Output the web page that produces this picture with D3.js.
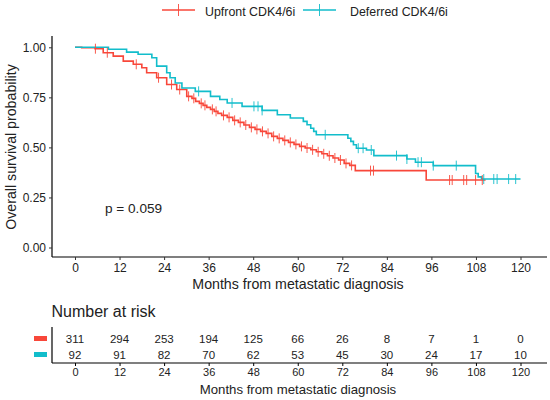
<!DOCTYPE html>
<html>
<head>
<meta charset="utf-8">
<script src="https://cdn.jsdelivr.net/npm/d3@7"></script>
<style>
  body { margin: 0; background: #fff; }
  svg { font-family: "Liberation Sans", Arial, sans-serif; }
</style>
</head>
<body>
<div class="km-plot"></div>
<script>
// survival steps: [month, survival after the drop]
const upfrontSteps = [
	[0, 1.0], [1.8, 0.998], [5.4, 0.993], [7.6, 0.973], [10.3, 0.956], [13, 0.931],
	[15.7, 0.915], [18, 0.898], [19.3, 0.873], [22, 0.848], [24.7, 0.814], [27.4, 0.789],
	[30.1, 0.755], [31.5, 0.745], [32.5, 0.73], [33.5, 0.72], [34.5, 0.71], [35.5, 0.70],
	[36.5, 0.69], [37.5, 0.68], [38.5, 0.67], [39.5, 0.66], [41, 0.65], [42.5, 0.635],
	[44, 0.625], [45.5, 0.612], [47, 0.60], [48.5, 0.59], [50, 0.58], [51.5, 0.57],
	[53, 0.555], [54.5, 0.545], [56, 0.535], [57.5, 0.525], [59, 0.515], [60.5, 0.505],
	[62, 0.497], [63.5, 0.488], [65, 0.478], [66.5, 0.468], [68, 0.458], [69.5, 0.447],
	[71, 0.437], [72.5, 0.42], [74, 0.41], [75.5, 0.384], [94.6, 0.337], [110.6, 0.337]
];
const upfrontCensor = [
	5.5, 8.7, 16.5, 22.5, 26, 28.2, 30.6, 32, 34, 35, 37, 38, 40, 41.5, 43, 44.5, 46,
	47.5, 49, 50.5, 52, 53.5, 55, 56.5, 58, 59.5, 61, 62.5, 64, 65.5, 67, 68.5, 70,
	71.5, 73, 74.5, 79.6, 80.4, 100.9, 101.6, 104.7, 105.5, 107.9, 109.7
];
const deferredSteps = [
	[0, 1.0], [9, 0.99], [13.9, 0.976], [17, 0.965], [20.7, 0.948], [22, 0.906],
	[24.7, 0.873], [25.6, 0.848], [27, 0.822], [28.8, 0.797], [32.4, 0.78], [36.5, 0.755],
	[39, 0.739], [41, 0.722], [45, 0.705], [50.4, 0.685], [54.5, 0.663], [58, 0.647],
	[61.5, 0.63], [62.5, 0.613], [63.5, 0.596], [64.3, 0.58], [65, 0.563], [73.5, 0.546],
	[74.3, 0.53], [75, 0.513], [75.8, 0.496], [78.5, 0.487], [80.5, 0.459], [89.4, 0.442],
	[91.7, 0.426], [96.5, 0.409], [107.9, 0.37], [108.6, 0.353], [109.5, 0.342], [120, 0.342]
];
const deferredCensor = [
	33.3, 42.3, 48.2, 49.3, 50.4, 67.4, 76.3, 77.6, 79.8, 86.6, 89.4, 92.4, 93.3, 96.5,
	102.7, 110.1, 112.8, 113.7, 116.8, 118.7
];
const timeTicks = [0, 12, 24, 36, 48, 60, 72, 84, 96, 108, 120];
const survTicks = [0, 0.25, 0.5, 0.75, 1];
const upfrontRisk = [311, 294, 253, 194, 125, 66, 26, 8, 7, 1, 0];
const deferredRisk = [92, 91, 82, 70, 62, 53, 45, 30, 24, 17, 10];
const groups = ['Upfront CDK4/6i', 'Deferred CDK4/6i'];
const colors = ['#F8473A', '#12BDCB'];

renderPlot();

function survAt(steps, t) {
	let s = steps[0][1];
	steps.forEach(function (d) { if (d[0] <= t) s = d[1]; });
	return s;
}

function renderPlot() {
	const width = 550;
	const height = 400;
	const svg = d3.select('.km-plot')
		.append('svg')
		.attr('width', width)
		.attr('height', height);

	const x = d3.scaleLinear().domain([0, 120]).range([75, 520.5]);
	const y = d3.scaleLinear().domain([0, 1]).range([247.5, 47.3]);

	// legend
	const legendX = [162, 303];
	groups.forEach(function (g, i) {
		const lg = svg.append('g').attr('transform', 'translate(' + legendX[i] + ',10)');
		lg.append('line').attr('x1', 0).attr('x2', 33).attr('y1', 0).attr('y2', 0)
			.attr('stroke', colors[i]).attr('stroke-width', 1.6);
		lg.append('line').attr('x1', 16.5).attr('x2', 16.5).attr('y1', -6).attr('y2', 6)
			.attr('stroke', colors[i]).attr('stroke-width', 0.9);
		lg.append('text').attr('x', i == 0 ? 43 : 47).attr('y', 5.5)
			.attr('font-size', '12.4px').attr('fill', '#222').text(g);
	});

	// axes
	svg.append('g')
		.attr('transform', 'translate(0,257)')
		.call(d3.axisBottom(x).tickValues(timeTicks).tickSize(3).tickPadding(3))
		.call(function (g) { g.select('.domain').attr('d', 'M52,0H547'); });
	svg.append('g')
		.attr('transform', 'translate(52,0)')
		.call(d3.axisLeft(y).tickValues(survTicks).tickFormat(d3.format('.2f')).tickSize(3).tickPadding(3))
		.call(function (g) { g.select('.domain').attr('d', 'M0,36V257'); });
	svg.selectAll('.tick text').attr('font-size', '12px').attr('fill', '#222')
		.attr('font-family', '"Liberation Sans", Arial, sans-serif');
	svg.selectAll('.domain').attr('stroke', '#000').attr('stroke-width', 1.2);
	svg.selectAll('.tick line').attr('stroke', '#333');

	svg.append('text').attr('x', 298).attr('y', 288.5).attr('text-anchor', 'middle')
		.attr('font-size', '14.2px').attr('fill', '#222').text('Months from metastatic diagnosis');
	svg.append('text').attr('transform', 'translate(15.5,147) rotate(-90)')
		.attr('text-anchor', 'middle').attr('font-size', '14.2px').attr('fill', '#222')
		.text('Overall survival probability');

	// curves
	const line = d3.line().x(function (d) { return x(d[0]); }).y(function (d) { return y(d[1]); })
		.curve(d3.curveStepAfter);
	[upfrontSteps, deferredSteps].forEach(function (steps, i) {
		svg.append('path').datum(steps)
			.attr('d', line)
			.attr('fill', 'none')
			.attr('stroke', colors[i])
			.attr('stroke-width', 1.6);
	});
	[upfrontCensor, deferredCensor].forEach(function (cens, i) {
		const steps = i == 0 ? upfrontSteps : deferredSteps;
		svg.selectAll('.cens' + i)
			.data(cens)
			.enter()
			.append('line')
			.attr('class', 'cens' + i)
			.attr('x1', function (d) { return x(d); })
			.attr('x2', function (d) { return x(d); })
			.attr('y1', function (d) { return y(survAt(steps, d)) - 5; })
			.attr('y2', function (d) { return y(survAt(steps, d)) + 5; })
			.attr('stroke', colors[i])
			.attr('stroke-width', 0.9);
	});

	svg.append('text').attr('x', 105).attr('y', 213)
		.attr('font-size', '13.6px').attr('fill', '#222').text('p = 0.059');

	// risk table
	svg.append('text').attr('x', 51.5).attr('y', 316.7)
		.attr('font-size', '16px').attr('fill', '#222').text('Number at risk');
	const rowY = [338.5, 354.5];
	[upfrontRisk, deferredRisk].forEach(function (risk, i) {
		svg.selectAll('.risk' + i)
			.data(risk)
			.enter()
			.append('text')
			.attr('class', 'risk' + i)
			.attr('x', function (d, j) { return x(timeTicks[j]); })
			.attr('y', rowY[i] + 4.2)
			.attr('text-anchor', 'middle')
			.attr('font-size', '11.5px')
			.attr('fill', '#222')
			.text(function (d) { return d; });
		svg.append('rect').attr('x', 34).attr('y', rowY[i] - 2.5).attr('width', 13).attr('height', 5)
			.attr('fill', colors[i]);
	});
	svg.append('g')
		.attr('transform', 'translate(0,363)')
		.call(d3.axisBottom(x).tickValues(timeTicks).tickSize(3).tickPadding(2))
		.call(function (g) {
			g.select('.domain').attr('d', 'M52,0H547').attr('stroke', '#000').attr('stroke-width', 1.2);
			g.selectAll('.tick text').attr('font-size', '11px').attr('fill', '#222')
				.attr('font-family', '"Liberation Sans", Arial, sans-serif');
		});
	svg.append('line').attr('x1', 52).attr('x2', 52).attr('y1', 327).attr('y2', 363)
		.attr('stroke', '#000').attr('stroke-width', 1.2);
	svg.append('text').attr('x', 298).attr('y', 393.5).attr('text-anchor', 'middle')
		.attr('font-size', '13.2px').attr('fill', '#222').text('Months from metastatic diagnosis');
}
</script>
</body>
</html>
